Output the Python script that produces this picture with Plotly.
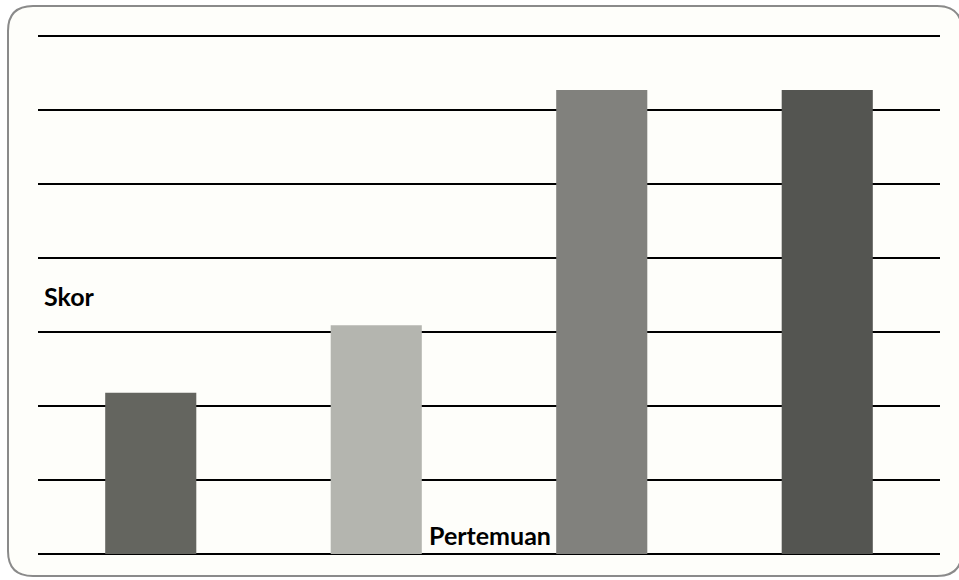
import plotly.graph_objects as go

categories = ["Pertemuan 1", "Pertemuan 2", "Pertemuan 3", "Pertemuan 4"]
scores = [2.18, 3.09, 6.27, 6.27]
bar_colors = ["#64655f", "#b4b5af", "#81817d", "#545551"]
y_ticks = [0, 1, 2, 3, 4, 5, 6, 7]

W, H = 959, 580
L, R, T, B = 38, 19, 36, 26
pw, ph = W - L - R, H - T - B

def px(x):
    return (x - L) / pw

def py(y):
    return (H - B - y) / ph

fig = go.Figure()
fig.add_trace(go.Bar(x=categories, y=scores, marker=dict(color=bar_colors, line=dict(width=0)),
                     width=0.404, hoverinfo="x+y"))

# rounded outer border
x0, y0, x1, y1, r = 8, 6, 962, 576, 25
path = (f"M {px(x0+r)},{py(y0)} L {px(x1-r)},{py(y0)} Q {px(x1)},{py(y0)} {px(x1)},{py(y0+r)} "
        f"L {px(x1)},{py(y1-r)} Q {px(x1)},{py(y1)} {px(x1-r)},{py(y1)} "
        f"L {px(x0+r)},{py(y1)} Q {px(x0)},{py(y1)} {px(x0)},{py(y1-r)} "
        f"L {px(x0)},{py(y0+r)} Q {px(x0)},{py(y0)} {px(x0+r)},{py(y0)} Z")
fig.add_shape(type="path", path=path, xref="paper", yref="paper",
              line=dict(color="#8a8a8a", width=2), fillcolor="#fefefa", layer="below")
# top gridline (at the top edge of the value range)
fig.add_shape(type="line", xref="paper", yref="paper", x0=0, x1=1, y0=1, y1=1,
              line=dict(color="#000000", width=2), layer="below")

fig.update_layout(
    width=W, height=H,
    margin=dict(l=L, r=R, t=T, b=B),
    paper_bgcolor="white", plot_bgcolor="rgba(0,0,0,0)",
    showlegend=False,
    xaxis=dict(showticklabels=False, showgrid=False, zeroline=False, showline=False,
               ticks="", range=[-0.5, 3.5]),
    yaxis=dict(range=[y_ticks[0], y_ticks[-1]], tickvals=y_ticks, showticklabels=False,
               showgrid=True, gridcolor="#000000", gridwidth=2, zeroline=True,
               zerolinecolor="#000000", zerolinewidth=2, showline=False, ticks=""),
    annotations=[
        dict(text="<b>Skor</b>", xref="paper", yref="paper", x=px(42), y=py(296),
             xanchor="left", yanchor="middle", showarrow=False,
             font=dict(family="Lato", size=25, color="#000000")),
        dict(text="<b>Pertemuan</b>", xref="paper", yref="paper", x=px(427), y=py(535),
             xanchor="left", yanchor="middle", showarrow=False,
             font=dict(family="Lato", size=25, color="#000000")),
    ],
)

fig.write_html("out.html")
